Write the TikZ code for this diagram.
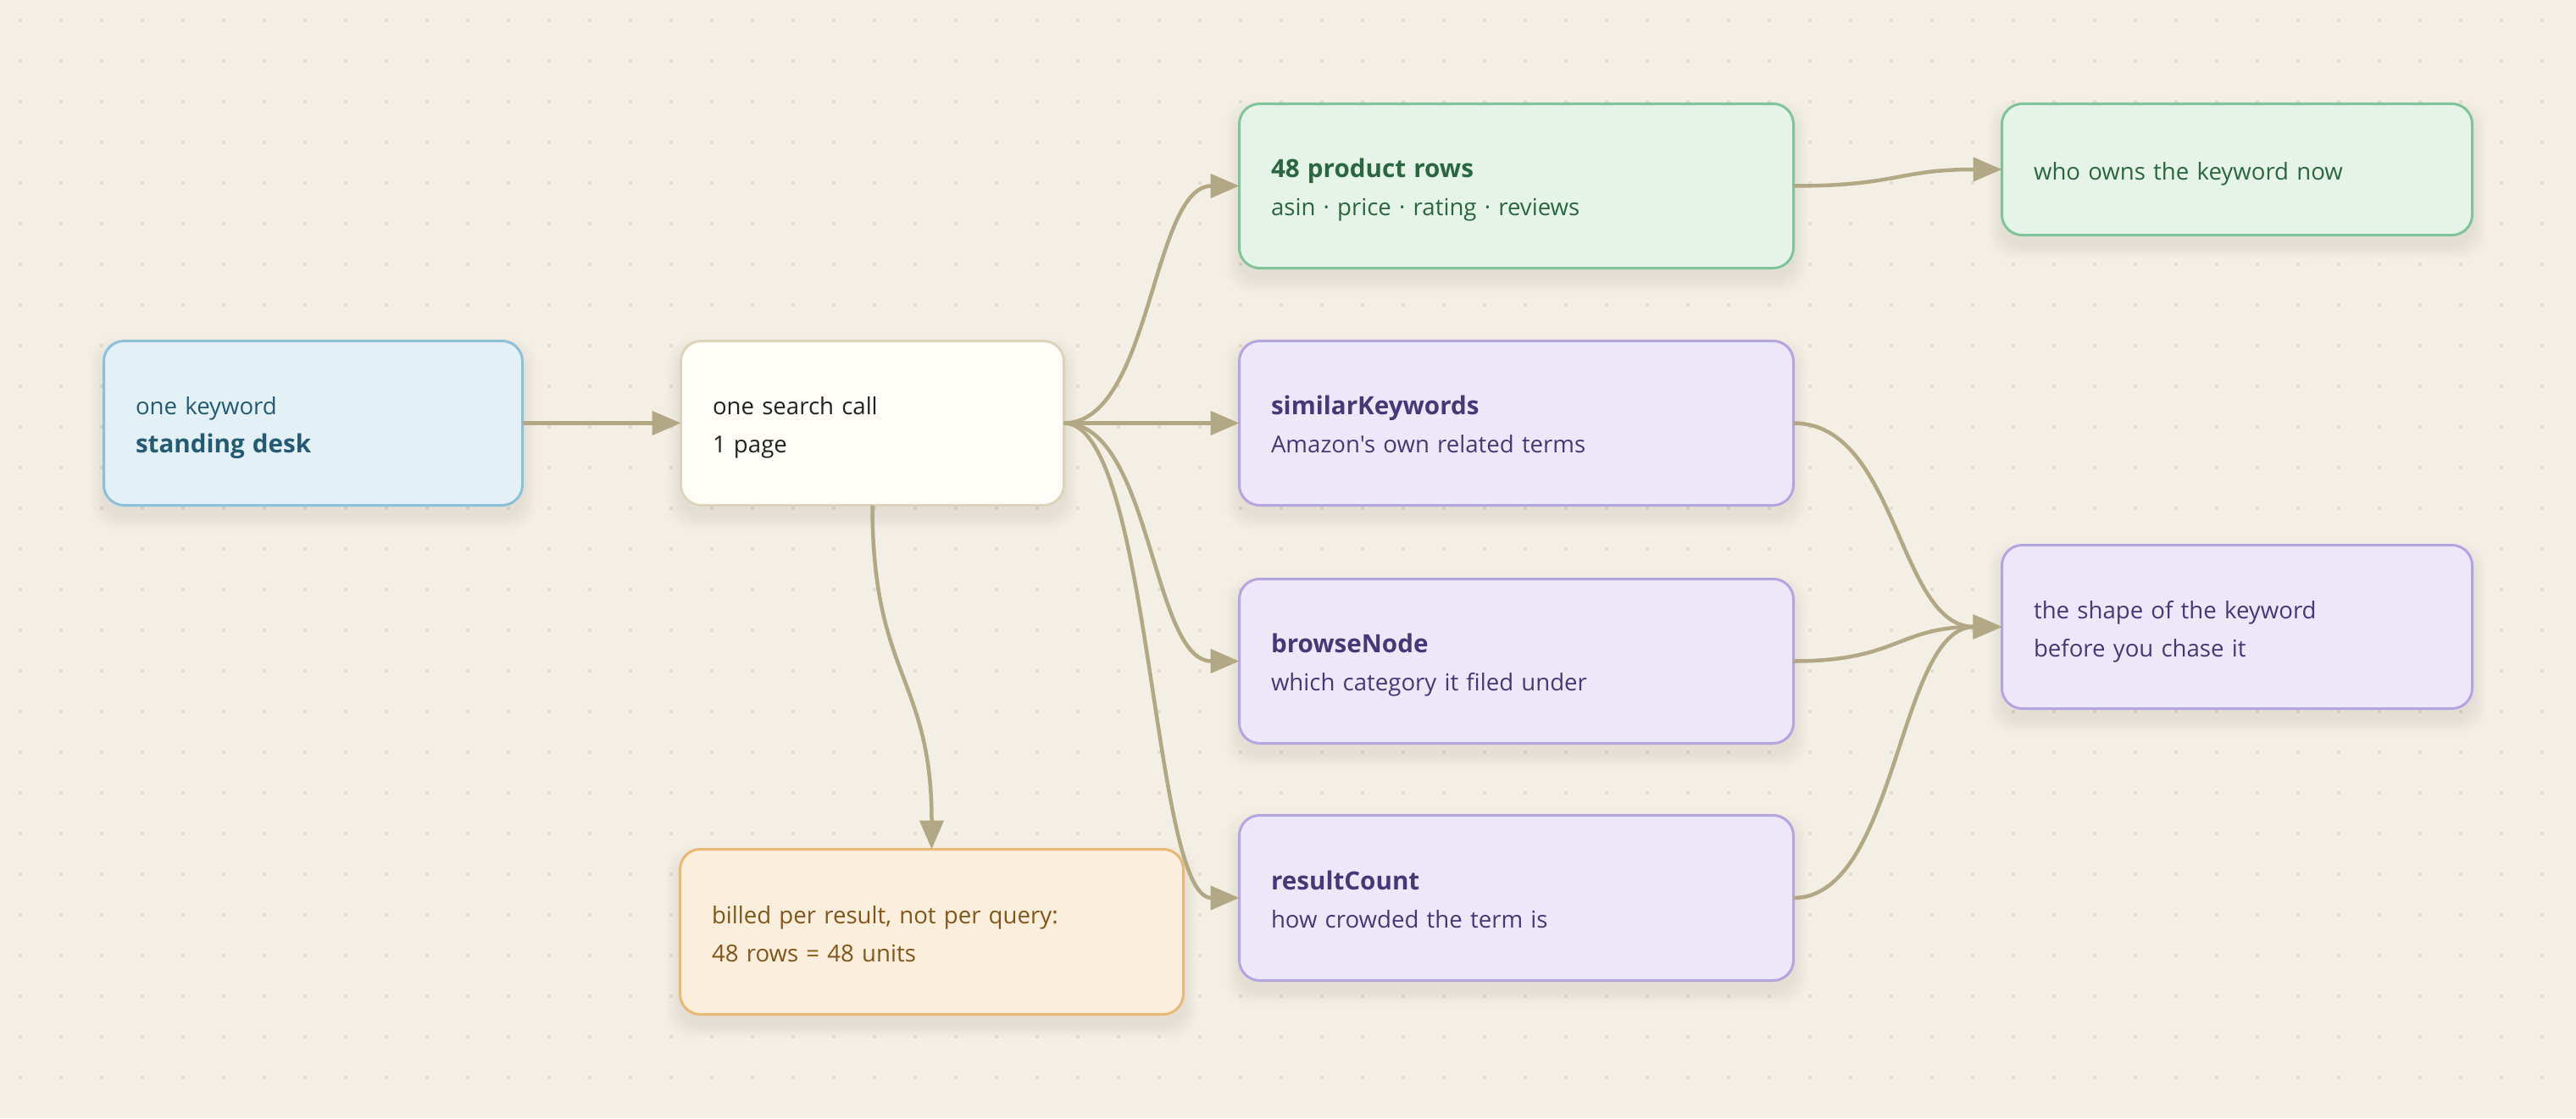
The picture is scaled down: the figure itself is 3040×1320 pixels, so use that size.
\documentclass[tikz,border=0pt]{standalone}
\usepackage{fontspec}
\usetikzlibrary{arrows.meta,calc}
\newfontfamily\uifont{Open Sans}
\definecolor{bgc}{HTML}{F3EFE4}
\definecolor{dotc}{HTML}{E1DCCD}
\definecolor{edgec}{HTML}{B3A885}
\definecolor{shadc}{HTML}{7A6A45}
\definecolor{bluef}{HTML}{E3F0F5}
\definecolor{blued}{HTML}{8CC0DA}
\definecolor{bluet}{HTML}{245A72}
\definecolor{creamf}{HTML}{FFFDF7}
\definecolor{creamd}{HTML}{DDD3BA}
\definecolor{creamt}{HTML}{222222}
\definecolor{greenf}{HTML}{E6F3E8}
\definecolor{greend}{HTML}{80C599}
\definecolor{greent}{HTML}{2A6640}
\definecolor{purf}{HTML}{EDE8F9}
\definecolor{purd}{HTML}{B5A4E0}
\definecolor{purt}{HTML}{463878}
\definecolor{orf}{HTML}{FBEEDC}
\definecolor{ord}{HTML}{E8B874}
\definecolor{ort}{HTML}{82561A}
\pgfdeclarelayer{bglayer}
\pgfdeclarelayer{shadowlayer}
\pgfsetlayers{bglayer,shadowlayer,main}
\newcommand{\uiline}[1]{\vrule height 35pt depth 10pt width 0pt #1}
\newcommand{\hb}[1]{{\fontsize{29.6pt}{45pt}\selectfont\bfseries #1}}
\newcommand{\boxshadow}[1]{%
  \foreach \k in {1,...,8}{%
    \fill[shadc, opacity=0.013, rounded corners=28pt]
      ($(#1.north west)+(-2*\k,-2*\k+12)$) rectangle ($(#1.south east)+(2*\k,2*\k+12)$);
  }}
\tikzset{
  box/.style={rounded corners=24pt, line width=3pt, outer sep=0pt,
    inner xsep=37.5pt, inner ysep=0pt, align=left,
    font={\uifont\fontsize{27.6pt}{45pt}\selectfont}},
  bluebox/.style={box, fill=bluef, draw=blued, text=bluet},
  creambox/.style={box, fill=creamf, draw=creamd, text=creamt},
  greenbox/.style={box, fill=greenf, draw=greend, text=greent},
  purbox/.style={box, fill=purf, draw=purd, text=purt},
  orbox/.style={box, fill=orf, draw=ord, text=ort},
  conn/.style={draw=edgec, line width=4.5pt, -{Triangle[length=34pt,width=28pt]}},
}
\begin{document}
\begin{tikzpicture}[x=1pt,y=-1pt]
\useasboundingbox (0,0) rectangle (3040,1320);
\begin{pgfonlayer}{bglayer}
  \fill[bgc] (0,0) rectangle (3040,1320);
  \foreach \i in {0,...,62}{\foreach \j in {0,...,26}{
    \fill[dotc] (24+48*\i,24+48*\j) circle[radius=2.2pt];}}
\end{pgfonlayer}

\node[bluebox, minimum width=494pt, text width=419pt, minimum height=194pt] (kw) at (369.5,499.5)
  {\uiline{one keyword}\\\uiline{\hb{standing desk}}};
\node[creambox, minimum width=452pt, text width=377pt, minimum height=194pt] (search) at (1029.5,499.5)
  {\uiline{one search call}\\\uiline{1 page}};
\node[orbox, minimum width=594pt, text width=519pt, minimum height=195pt] (billed) at (1099.5,1100)
  {\uiline{billed per result, not per query:}\\\uiline{48 rows = 48 units}};
\node[greenbox, minimum width=654pt, text width=579pt, minimum height=194pt] (rows) at (1789.5,219.5)
  {\uiline{\hb{48 product rows}}\\\uiline{asin · price · rating · reviews}};
\node[greenbox, minimum width=555pt, text width=480pt, minimum height=155pt] (who) at (2640,200)
  {\uiline{who owns the keyword now}};
\node[purbox, minimum width=654pt, text width=579pt, minimum height=194pt] (similar) at (1789.5,499.5)
  {\uiline{\hb{similarKeywords}}\\\uiline{Amazon's own related terms}};
\node[purbox, minimum width=654pt, text width=579pt, minimum height=194pt] (browse) at (1789.5,780.5)
  {\uiline{\hb{browseNode}}\\\uiline{which category it filed under}};
\node[purbox, minimum width=654pt, text width=579pt, minimum height=195pt] (result) at (1789.5,1060)
  {\uiline{\hb{resultCount}}\\\uiline{how crowded the term is}};
\node[purbox, minimum width=555pt, text width=480pt, minimum height=193pt] (shape) at (2640,740)
  {\uiline{the shape of the keyword}\\\uiline{before you chase it}};

\begin{pgfonlayer}{shadowlayer}
  \foreach \n in {kw,search,billed,rows,who,similar,browse,result,shape}{\boxshadow{\n}}
\end{pgfonlayer}

\draw[conn] (kw.east) -- (search.west);
\draw[conn] (search.east) -- (similar.west);

\coordinate (m1) at ($(search.east)!0.5!(rows.west)$);
\draw[conn] (search.east) .. controls (m1 |- search.east) and (m1 |- rows.west) .. (rows.west);
\coordinate (m2) at ($(search.east)!0.5!(browse.west)$);
\draw[conn] (search.east) .. controls (m2 |- search.east) and (m2 |- browse.west) .. (browse.west);
\coordinate (m3) at ($(search.east)!0.5!(result.west)$);
\draw[conn] (search.east) .. controls (m3 |- search.east) and (m3 |- result.west) .. (result.west);

\coordinate (m4) at ($(search.south)!0.5!(billed.north)$);
\draw[conn] (search.south) .. controls (search.south |- m4) and (billed.north |- m4) .. (billed.north);

\coordinate (m5) at ($(rows.east)!0.5!(who.west)$);
\draw[conn] (rows.east) .. controls (m5 |- rows.east) and (m5 |- who.west) .. (who.west);

\coordinate (m6) at ($(similar.east)!0.5!(shape.west)$);
\draw[conn] (similar.east) .. controls (m6 |- similar.east) and (m6 |- shape.west) .. (shape.west);
\coordinate (m7) at ($(browse.east)!0.5!(shape.west)$);
\draw[conn] (browse.east) .. controls (m7 |- browse.east) and (m7 |- shape.west) .. (shape.west);
\coordinate (m8) at ($(result.east)!0.5!(shape.west)$);
\draw[conn] (result.east) .. controls (m8 |- result.east) and (m8 |- shape.west) .. (shape.west);
\end{tikzpicture}
\end{document}
